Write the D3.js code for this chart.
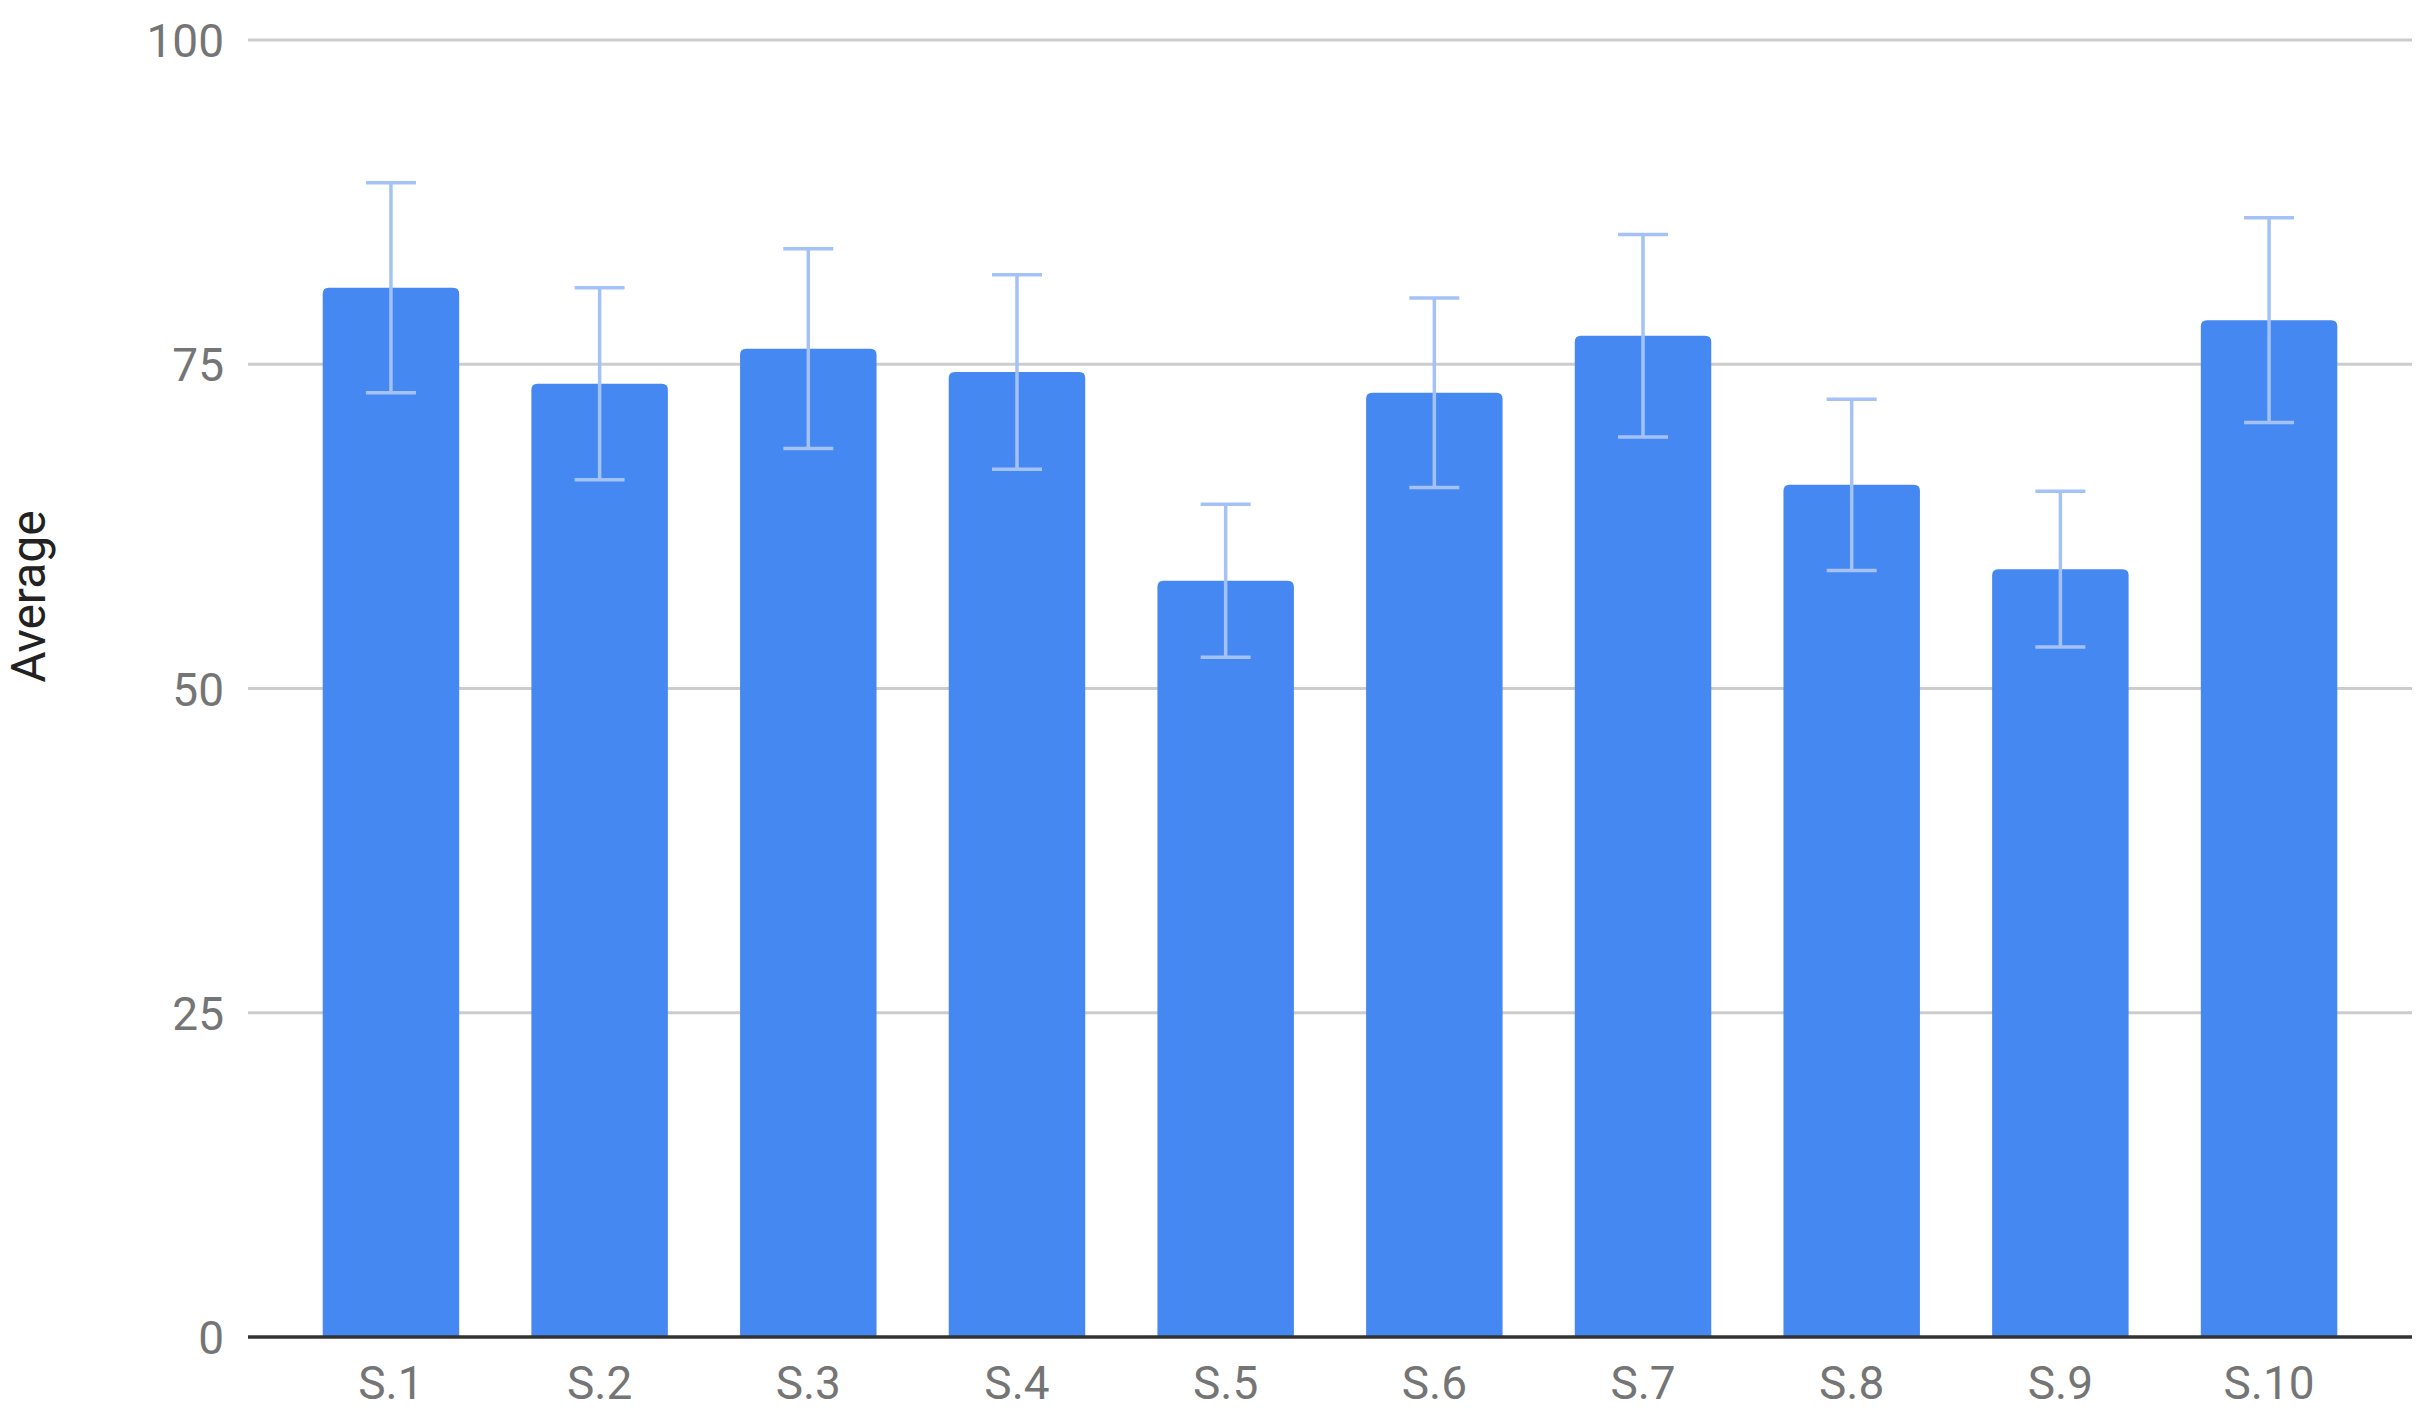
<!DOCTYPE html>
<html>
<head>
<meta charset="utf-8">
<script src="https://cdn.jsdelivr.net/npm/d3@7"></script>
<style>
  html, body { margin: 0; padding: 0; background: #ffffff; }
  svg { display: block; }
</style>
</head>
<body>
<svg id="chart" width="2432" height="1425"></svg>
<script>
const categories = ["S.1", "S.2", "S.3", "S.4", "S.5", "S.6", "S.7", "S.8", "S.9", "S.10"];
const averages = [80.9, 73.5, 76.2, 74.4, 58.3, 72.8, 77.2, 65.7, 59.2, 78.4];
const errors = [8.1, 7.4, 7.7, 7.5, 5.9, 7.3, 7.8, 6.6, 6.0, 7.9];
const yTicks = [0, 25, 50, 75, 100];
const yTitle = "Average";

const W = 2432, H = 1425;
const m = { left: 248, right: 20, top: 40, bottom: 88 };
const svg = d3.select("#chart");

const x = d3.scaleBand()
  .domain(categories)
  .range([m.left, W - m.right])
  .paddingInner(0.346)
  .paddingOuter(0.358);

const y = d3.scaleLinear()
  .domain([0, 100])
  .range([H - m.bottom, m.top]);

const font = "Roboto, 'Noto Sans', Arial, sans-serif";

// gridlines
svg.append("g")
  .selectAll("line")
  .data(yTicks.filter(t => t !== 0))
  .join("line")
  .attr("x1", m.left)
  .attr("x2", W - m.right)
  .attr("y1", d => y(d))
  .attr("y2", d => y(d))
  .attr("stroke", "#cccccc")
  .attr("stroke-width", 3);

// y axis labels
const yAxis = d3.axisLeft(y).tickValues(yTicks).tickSize(0).tickPadding(24);
const gy = svg.append("g")
  .attr("transform", `translate(${m.left},0)`)
  .call(yAxis);
gy.select(".domain").remove();
gy.selectAll("text")
  .attr("font-family", font)
  .attr("font-size", 46)
  .attr("fill", "#757575")
  .attr("dy", "0.36em");

// bars with rounded top corners
const r = 6;
const barPath = (d, i) => {
  const x0 = x(categories[i]);
  const w = x.bandwidth();
  const yt = y(d);
  const yb = y(0);
  return `M${x0},${yb} L${x0},${yt + r} Q${x0},${yt} ${x0 + r},${yt} ` +
         `L${x0 + w - r},${yt} Q${x0 + w},${yt} ${x0 + w},${yt + r} L${x0 + w},${yb} Z`;
};
svg.append("g")
  .selectAll("path")
  .data(averages)
  .join("path")
  .attr("d", barPath)
  .attr("fill", "#4688f1");

// error bars
const capW = 50;
const eg = svg.append("g")
  .attr("stroke", "#a4c2f8")
  .attr("stroke-width", 3.5);
averages.forEach((v, i) => {
  const cx = x(categories[i]) + x.bandwidth() / 2;
  const hi = y(v + errors[i]);
  const lo = y(v - errors[i]);
  eg.append("line").attr("x1", cx).attr("x2", cx).attr("y1", hi).attr("y2", lo);
  eg.append("line").attr("x1", cx - capW / 2).attr("x2", cx + capW / 2).attr("y1", hi).attr("y2", hi);
  eg.append("line").attr("x1", cx - capW / 2).attr("x2", cx + capW / 2).attr("y1", lo).attr("y2", lo);
});

// baseline
svg.append("line")
  .attr("x1", m.left)
  .attr("x2", W - m.right)
  .attr("y1", y(0))
  .attr("y2", y(0))
  .attr("stroke", "#333333")
  .attr("stroke-width", 3.5);

// x axis labels
const xAxis = d3.axisBottom(x).tickSize(0).tickPadding(29);
const gx = svg.append("g")
  .attr("transform", `translate(0,${y(0)})`)
  .call(xAxis);
gx.select(".domain").remove();
gx.selectAll("text")
  .attr("font-family", font)
  .attr("font-size", 46)
  .attr("fill", "#757575");

// y title
svg.append("text")
  .attr("transform", `translate(45,${(y(0) + y(100)) / 2 - 92}) rotate(-90)`)
  .attr("text-anchor", "middle")
  .attr("font-family", font)
  .attr("font-size", 48)
  .attr("fill", "#222222")
  .text(yTitle);
</script>
</body>
</html>
